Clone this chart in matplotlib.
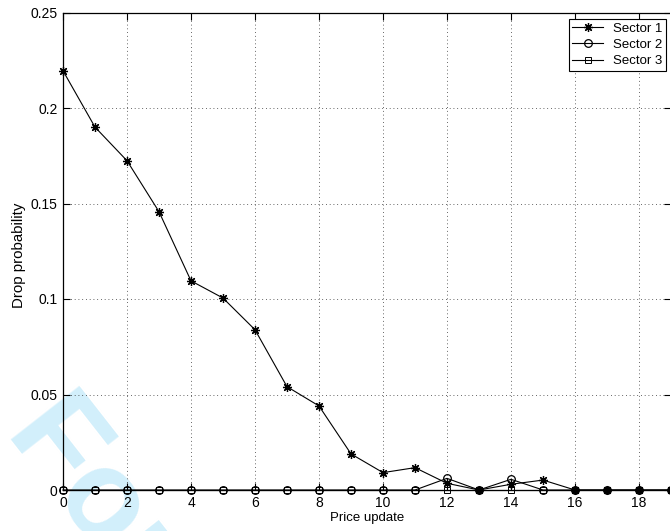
import matplotlib
matplotlib.use('Agg')
import matplotlib.pyplot as plt
import numpy as np

plt.rcParams['font.family'] = ['Liberation Sans', 'DejaVu Sans']
plt.rcParams['font.size'] = 10

# drop probability per price update
updates = np.arange(0, 20)
sector1 = [0.2195, 0.190, 0.1724, 0.1457, 0.1095, 0.1005, 0.0839, 0.0541, 0.0440, 0.0189,
           0.0091, 0.0117, 0.0035, 0.0, 0.0030, 0.0052, 0.0, 0.0, 0.0, 0.0]
sector2 = [0.0, 0.0, 0.0, 0.0, 0.0, 0.0, 0.0, 0.0, 0.0, 0.0,
           0.0, 0.0, 0.0061, 0.0, 0.0056, 0.0, 0.0, 0.0, 0.0, 0.0]
sector3 = [0.0] * 20
labels = ['Sector 1', 'Sector 2', 'Sector 3']
xticks = np.arange(0, 20, 2)
yticks = [0, 0.05, 0.1, 0.15, 0.2, 0.25]
ytick_labels = ['0', '0.05', '0.1', '0.15', '0.2', '0.25']

fig = plt.figure(figsize=(6.7, 5.31), dpi=100)

# watermark sits behind everything
fig.text(0.0067, 0.185, 'For Peer Review', rotation=-52, rotation_mode='anchor',
         ha='left', va='baseline', fontsize=91, fontweight='bold',
         color='#d2effb', zorder=-5)

ax = fig.add_axes([63 / 670, 1 - 490 / 531, 608 / 670, 477.5 / 531])
ax.patch.set_alpha(0)

asterisk = (8, 2, 0)
ax.plot(updates, sector1, color='k', lw=0.8, marker=asterisk, ms=6.5, mew=0.9,
        label=labels[0], clip_on=False)
ax.plot(updates, sector2, color='k', lw=0.8, marker='o', ms=5.5, mfc='none', mew=0.9,
        label=labels[1], clip_on=False)
ax.plot(updates, sector3, color='k', lw=0.8, marker='s', ms=4, mfc='none', mew=0.7,
        label=labels[2], clip_on=False)

ax.set_xlim(0, 19)
ax.set_ylim(0, 0.25)
ax.set_xticks(xticks)
ax.set_yticks(yticks)
ax.set_yticklabels(ytick_labels)
ax.tick_params(direction='in', length=5, width=0.8, top=True, right=True, labelsize=10)
ax.tick_params(axis='x', pad=4)
ax.tick_params(axis='y', pad=4)
ax.grid(True, linestyle=(0, (1, 3.5)), color='0.2', lw=0.6)
for s in ax.spines.values():
    s.set_linewidth(0.9)

ax.set_xlabel('Price update', fontsize=9.5)
ax.set_ylabel('Drop probability', fontsize=10.8)
ax.yaxis.set_label_coords(19 / 670, 1 - 255 / 531, transform=fig.transFigure)
ax.xaxis.set_label_coords(367 / 670, 1 - 518 / 531, transform=fig.transFigure)
ax.xaxis.label.set_va('center')
ax.yaxis.label.set_va('center')

leg = ax.legend(loc='upper right', bbox_to_anchor=(666 / 670, 1 - 19 / 531),
                bbox_transform=fig.transFigure, borderaxespad=0, fancybox=False,
                framealpha=1, edgecolor='k', handlelength=2.3, handletextpad=0.8,
                labelspacing=0.32, borderpad=0.25, fontsize=9.5)
leg.get_frame().set_linewidth(0.8)

fig.savefig('out.png', dpi=100)
